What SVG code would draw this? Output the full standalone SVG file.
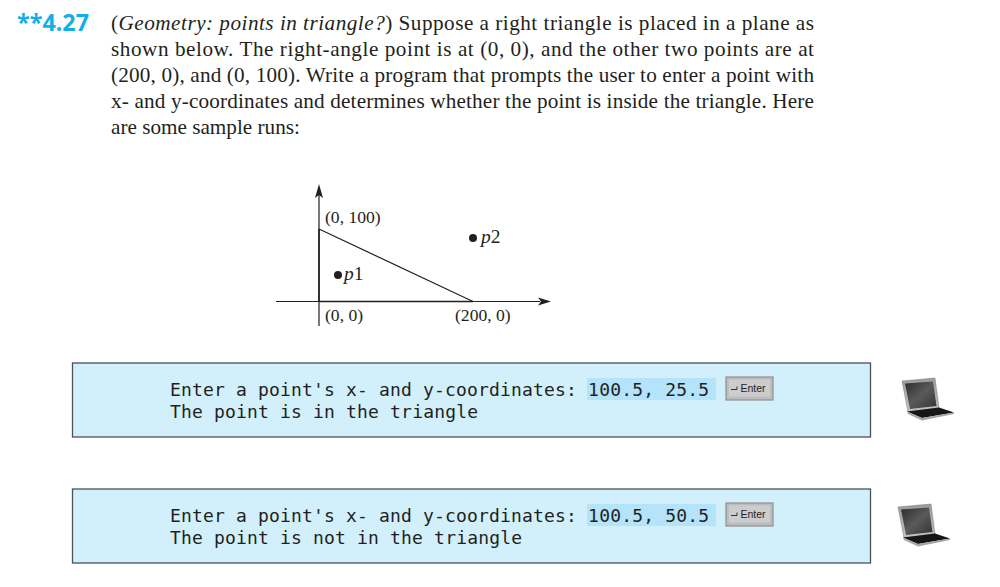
<svg xmlns="http://www.w3.org/2000/svg" width="1000" height="587" viewBox="0 0 1000 587">
<style>
.b{font-family:"Liberation Serif","Times New Roman",serif;font-size:21.2px;fill:#231f20}
.l{font-family:"Liberation Serif","Times New Roman",serif;font-size:17.6px;fill:#231f20}
.p{font-size:19.5px}
.i{font-style:italic}
.m{font-family:"DejaVu Sans Mono","Liberation Mono",monospace;font-size:18px;fill:#231f20}
.box{fill:#d2effc;stroke:#4a5256;stroke-width:1.3}
.hl{fill:#b5e3f9}
.ax{stroke:#231f20;stroke-width:1.2;fill:none}
.ax2{stroke:#231f20;stroke-width:1.6;fill:none}
.key{fill:#bdbdbd;stroke:#8f8f8f;stroke-width:1.2}
.keytop{fill:#cdcdcd}
.kt{font-family:"Liberation Sans",Arial,sans-serif;font-size:10.5px;fill:#222}
</style>
<defs>
<linearGradient id="lid" x1="0" y1="0" x2="0" y2="1"><stop offset="0" stop-color="#9a9a9a"/><stop offset="1" stop-color="#c4c4c4"/></linearGradient>
<linearGradient id="scr" x1="0" y1="0" x2="1" y2="1"><stop offset="0" stop-color="#2c2c2c"/><stop offset=".5" stop-color="#5a5a5a"/><stop offset="1" stop-color="#333"/></linearGradient>
<g id="laptop">
<path d="M1 3 L34 0 L38 30 L7 34 Z" fill="url(#lid)" stroke="#777" stroke-width=".5"/>
<path d="M4 5.500 L32 3.500 L35.500 28 L9 31 Z" fill="url(#scr)"/>
<path d="M6 33.500 L38 29.500 L53 34.500 L21 40 Z" fill="#161616"/>
<path d="M6 33.500 L21 40 L53 34.500 L53 36 L21 42.500 L7 36 Z" fill="#a5a5a5"/>
</g>
<g id="enterkey">
<rect x="0" y="0" width="47" height="23" class="key"/>
<rect x="3" y="2.500" width="41" height="17" class="keytop"/>
<path d="M5 12.500 H11 V9.500" fill="none" stroke="#222" stroke-width=".9"/>
<text x="14.500" y="15" class="kt">Enter</text>
</g>
</defs>
<g id="exercise-text">
<text x="17" y="31" font-family="'Open Sans','Liberation Sans',sans-serif" font-weight="700" font-size="24" fill="#12aeea" textLength="72" lengthAdjust="spacingAndGlyphs">**4.27</text>
<text x="111" y="30" class="b" textLength="703"><tspan>(</tspan><tspan class="i">Geometry: points in triangle?</tspan><tspan>) Suppose a right triangle is placed in a plane as</tspan></text>
<text x="111" y="56" class="b" textLength="703">shown below. The right-angle point is at (0, 0), and the other two points are at</text>
<text x="111" y="82" class="b" textLength="703">(200, 0), and (0, 100). Write a program that prompts the user to enter a point with</text>
<text x="111" y="108" class="b" textLength="703">x- and y-coordinates and determines whether the point is inside the triangle. Here</text>
<text x="111" y="134" class="b">are some sample runs:</text>
</g>
<g id="connectors">
<path class="ax" d="M319 326 V190"/>
<path class="ax" d="M276 301.500 H540"/>
<path d="M319 184 L323 198 L319 195 L315 198 Z" fill="#231f20"/>
<path d="M551 301.500 L538 297.500 L541 301.500 L538 305.500 Z" fill="#231f20"/>
<path class="ax2" d="M319 301.500 H473"/>
<path class="ax2" d="M319 229 V301.500"/>
<path class="ax" d="M319 229 L473 301.500"/>
</g>
<g id="p1"><circle cx="338" cy="275" r="4" fill="#231f20"/><text x="344" y="280" class="l p i">p<tspan font-style="normal">1</tspan></text></g>
<g id="p2"><circle cx="473" cy="238" r="4" fill="#231f20"/><text x="481" y="243" class="l p i">p<tspan font-style="normal">2</tspan></text></g>
<g id="label-0-100"><text x="325" y="223" class="l">(0, 100)</text></g>
<g id="label-0-0"><text x="325" y="321" class="l">(0, 0)</text></g>
<g id="label-200-0"><text x="455" y="321" class="l">(200, 0)</text></g>
<g id="run1">
<rect x="72.500" y="363" width="798" height="74" class="box"/>
<rect x="587" y="378" width="129" height="22" class="hl"/>
<text x="170" y="396" class="m" textLength="539">Enter a point's x- and y-coordinates: 100.5, 25.5</text>
<text x="170" y="418" class="m" textLength="308">The point is in the triangle</text>
<use href="#enterkey" x="726" y="377"/>
<use href="#laptop" x="901" y="378"/>
</g>
<g id="run2">
<rect x="72.500" y="489" width="798" height="74" class="box"/>
<rect x="587" y="504" width="129" height="22" class="hl"/>
<text x="170" y="522" class="m" textLength="539">Enter a point's x- and y-coordinates: 100.5, 50.5</text>
<text x="170" y="544" class="m" textLength="352">The point is not in the triangle</text>
<use href="#enterkey" x="726" y="503"/>
<use href="#laptop" x="897" y="504"/>
</g>
</svg>
